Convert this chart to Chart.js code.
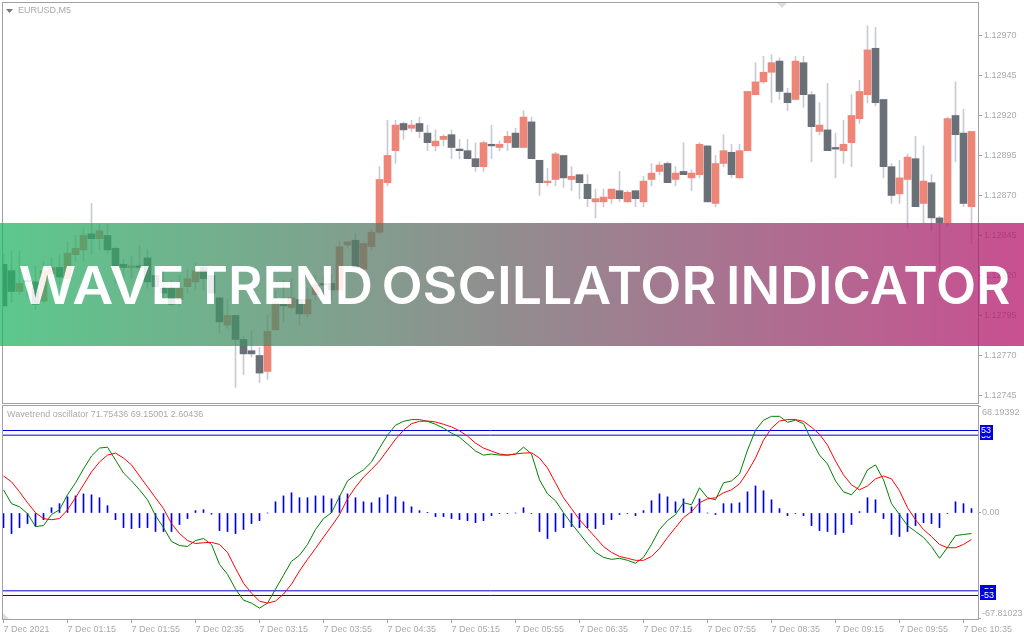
<!DOCTYPE html>
<html>
<head>
<meta charset="utf-8">
<title>Wave Trend Oscillator Indicator</title>
<script src="https://cdn.jsdelivr.net/npm/chart.js@4/dist/chart.umd.min.js"></script>
<style>
html, body { margin: 0; padding: 0; background: #fff; overflow: hidden; }
canvas { position: absolute; left: 0; }
#priceChart { top: 0; }
#oscChart { top: 404px; }
</style>
</head>
<body>
<canvas id="priceChart" width="1024" height="405"></canvas>
<canvas id="oscChart" width="1024" height="236"></canvas>
<script>
const symbolLabel = 'EURUSD,M5';
const oscLabel = 'Wavetrend oscillator 71.75436 69.15001 2.60436';
const bannerWords = ['WAVE', 'TREND', 'OSCILLATOR', 'INDICATOR'];

const timeLabels = ['7 Dec 2021', '7 Dec 01:15', '7 Dec 01:55', '7 Dec 02:35', '7 Dec 03:15', '7 Dec 03:55',
    '7 Dec 04:35', '7 Dec 05:15', '7 Dec 05:55', '7 Dec 06:35', '7 Dec 07:15', '7 Dec 07:55',
    '7 Dec 08:35', '7 Dec 09:15', '7 Dec 09:55', '7 Dec 10:35'];
const priceTicks = [1.12970, 1.12945, 1.12920, 1.12895, 1.12870, 1.12845, 1.12820, 1.12795, 1.12770, 1.12745];
const oscTicks = [68.19392, 0, -67.81023];
const oscLevels = [50, 53, -50, -53];

const opens = [1.12827, 1.12823, 1.12810, 1.12817, 1.12816, 1.12804, 1.12821, 1.12825, 1.12818, 1.12833,
    1.12836, 1.12846, 1.12843, 1.12845, 1.12837, 1.12827, 1.12825, 1.12826, 1.12831, 1.12820,
    1.12812, 1.12812, 1.12805, 1.12813, 1.12816, 1.12825, 1.12820, 1.12806, 1.12789, 1.12795,
    1.12780, 1.12773, 1.12770, 1.12760, 1.12786, 1.12802, 1.12800, 1.12805, 1.12796, 1.12808,
    1.12815, 1.12815, 1.12811, 1.12839, 1.12842, 1.12824, 1.12838, 1.12847, 1.12878, 1.12898,
    1.12915, 1.12912, 1.12915, 1.12909, 1.12901, 1.12905, 1.12908, 1.12899, 1.12898, 1.12893,
    1.12888, 1.12902, 1.12900, 1.12903, 1.12909, 1.12900, 1.12916, 1.12892, 1.12878, 1.12880,
    1.12895, 1.12880, 1.12883, 1.12877, 1.12866, 1.12866, 1.12868, 1.12873, 1.12866, 1.12873,
    1.12866, 1.12880, 1.12885, 1.12890, 1.12880, 1.12885, 1.12881, 1.12883, 1.12901, 1.12865,
    1.12890, 1.12897, 1.12881, 1.12898, 1.12933, 1.12941, 1.12947, 1.12954, 1.12934, 1.12930,
    1.12953, 1.12933, 1.12910, 1.12911, 1.12900, 1.12898, 1.12903, 1.12918, 1.12933, 1.12962,
    1.12930, 1.12888, 1.12871, 1.12880, 1.12893, 1.12865, 1.12878, 1.12856, 1.12853, 1.12920,
    1.12909, 1.12863];
const closes = [1.12801, 1.12810, 1.12815, 1.12816, 1.12802, 1.12823, 1.12825, 1.12819, 1.12834, 1.12837,
    1.12845, 1.12843, 1.12848, 1.12836, 1.12826, 1.12825, 1.12826, 1.12825, 1.12816, 1.12813,
    1.12809, 1.12802, 1.12812, 1.12818, 1.12823, 1.12818, 1.12809, 1.12791, 1.12795, 1.12780,
    1.12771, 1.12771, 1.12759, 1.12785, 1.12803, 1.12801, 1.12806, 1.12796, 1.12805, 1.12814,
    1.12814, 1.12811, 1.12838, 1.12841, 1.12825, 1.12840, 1.12847, 1.12880, 1.12895, 1.12914,
    1.12911, 1.12914, 1.12910, 1.12903, 1.12904, 1.12907, 1.12900, 1.12898, 1.12893, 1.12888,
    1.12903, 1.12901, 1.12902, 1.12907, 1.12900, 1.12919, 1.12893, 1.12878, 1.12879, 1.12896,
    1.12881, 1.12882, 1.12878, 1.12868, 1.12868, 1.12869, 1.12874, 1.12868, 1.12872, 1.12868,
    1.12879, 1.12884, 1.12889, 1.12878, 1.12884, 1.12883, 1.12884, 1.12902, 1.12866, 1.12890,
    1.12898, 1.12883, 1.12898, 1.12935, 1.12941, 1.12947, 1.12953, 1.12935, 1.12928, 1.12954,
    1.12933, 1.12913, 1.12914, 1.12898, 1.12899, 1.12902, 1.12920, 1.12935, 1.12961, 1.12928,
    1.12888, 1.12870, 1.12881, 1.12894, 1.12863, 1.12879, 1.12856, 1.12853, 1.12918, 1.12908,
    1.12865, 1.12910];
const highs = [1.12833, 1.12835, 1.12835, 1.12825, 1.12826, 1.12829, 1.12831, 1.12833, 1.12841, 1.12845,
    1.12849, 1.12865, 1.12852, 1.12852, 1.12838, 1.12830, 1.12832, 1.12839, 1.12836, 1.12825,
    1.12823, 1.12817, 1.12820, 1.12824, 1.12828, 1.12826, 1.12820, 1.12806, 1.12805, 1.12795,
    1.12782, 1.12785, 1.12775, 1.12795, 1.12810, 1.12817, 1.12818, 1.12805, 1.12812, 1.12820,
    1.12820, 1.12820, 1.12841, 1.12841, 1.12846, 1.12840, 1.12849, 1.12888, 1.12917, 1.12917,
    1.12916, 1.12917, 1.12919, 1.12914, 1.12911, 1.12908, 1.12911, 1.12905, 1.12905, 1.12903,
    1.12904, 1.12914, 1.12904, 1.12910, 1.12912, 1.12923, 1.12919, 1.12892, 1.12887, 1.12897,
    1.12895, 1.12888, 1.12883, 1.12883, 1.12874, 1.12874, 1.12874, 1.12885, 1.12873, 1.12873,
    1.12882, 1.12890, 1.12891, 1.12891, 1.12888, 1.12903, 1.12886, 1.12903, 1.12901, 1.12895,
    1.12908, 1.12902, 1.12902, 1.12935, 1.12953, 1.12957, 1.12958, 1.12956, 1.12937, 1.12957,
    1.12957, 1.12935, 1.12928, 1.12940, 1.12909, 1.12917, 1.12933, 1.12942, 1.12976, 1.12975,
    1.12930, 1.12890, 1.12892, 1.12896, 1.12907, 1.12901, 1.12883, 1.12857, 1.12919, 1.12941,
    1.12924, 1.12910];
const lows = [1.12801, 1.12803, 1.12808, 1.12807, 1.12799, 1.12803, 1.12815, 1.12814, 1.12814, 1.12829,
    1.12829, 1.12833, 1.12836, 1.12834, 1.12815, 1.12816, 1.12818, 1.12818, 1.12812, 1.12808,
    1.12803, 1.12801, 1.12801, 1.12809, 1.12811, 1.12811, 1.12808, 1.12784, 1.12787, 1.12750,
    1.12758, 1.12769, 1.12753, 1.12755, 1.12786, 1.12791, 1.12799, 1.12789, 1.12794, 1.12805,
    1.12808, 1.12805, 1.12811, 1.12837, 1.12825, 1.12822, 1.12836, 1.12846, 1.12876, 1.12890,
    1.12905, 1.12910, 1.12906, 1.12898, 1.12898, 1.12901, 1.12893, 1.12893, 1.12893, 1.12885,
    1.12885, 1.12893, 1.12898, 1.12898, 1.12900, 1.12900, 1.12893, 1.12870, 1.12876, 1.12876,
    1.12875, 1.12873, 1.12868, 1.12863, 1.12856, 1.12863, 1.12865, 1.12866, 1.12866, 1.12863,
    1.12863, 1.12876, 1.12883, 1.12878, 1.12876, 1.12883, 1.12873, 1.12881, 1.12866, 1.12863,
    1.12888, 1.12881, 1.12881, 1.12898, 1.12933, 1.12940, 1.12928, 1.12930, 1.12923, 1.12930,
    1.12925, 1.12891, 1.12908, 1.12898, 1.12881, 1.12890, 1.12888, 1.12915, 1.12928, 1.12926,
    1.12881, 1.12865, 1.12865, 1.12850, 1.12863, 1.12853, 1.12848, 1.12823, 1.12851, 1.12891,
    1.12863, 1.12840];

const histValues = [-9.4, -13.2, -9.4, -6.8, -8.5, -4.3, 3.4, 6, 10.4, 11,
    12.3, 11.7, 9.8, 4.7, -4.3, -9.4, -10, -9.4, -9.4, -11.9,
    -11.9, -11.9, -7.4, -3.6, 1.5, 2.1, -0.8, -11.3, -11.9, -13.2,
    -10.6, -6.8, -4.9, 0, 7.2, 11, 13, 9.8, 9.8, 11,
    11, 9.1, 11, 12.3, 9.8, 7.2, 6.6, 9.8, 11.7, 10.4,
    7.2, 4, 1.5, 0.2, -2.3, -2.3, -3.6, -4.3, -4.9, -6.2,
    -4.9, -1.7, -0.4, -0.4, 0, 3.4, -0.4, -11.9, -16.4, -11.9,
    -9.4, -8.7, -9.4, -9.4, -10, -7.4, -4.3, -1, -0.4, -1.7,
    1.5, 7.9, 12.3, 10.4, 7.2, 9.1, 4, 9.1, 0, -1,
    6, 6, 6.6, 13.6, 17.4, 14.3, 8.5, 2.8, -1.7, -0.4,
    -1.7, -8.1, -11.3, -11.9, -13.8, -12.6, -7.4, 0.9, 9.8, 8.5,
    -3.6, -13.8, -15.1, -11.9, -8.1, -6.2, -6.8, -9.4, -0.4, 7.2,
    6, 2.8];
const greenValues = [14.9, 6, 4, -0.4, -8.7, -8.1, -1, 2.1, 11.7, 19.4,
    28.3, 36.6, 41.7, 42.3, 34, 25.7, 20.6, 14.9, 8.5, -1.7,
    -9.4, -18.3, -20.9, -21.5, -17.7, -16.4, -20.2, -33, -39.4, -48.9,
    -56, -57.9, -61.1, -57.9, -48.9, -40, -31, -27.2, -20.2, -10.6,
    -3.6, 0.2, 10.4, 20.6, 24.5, 27.7, 32.8, 41.7, 50, 56.4,
    58.9, 60, 60, 58.9, 57, 54.5, 51.3, 48.7, 44.3, 39.8,
    37.2, 37.9, 37.2, 37.2, 37.9, 42.3, 37.9, 21.3, 12.3, 7.9,
    0.2, -6.8, -13.2, -19.6, -25.3, -28.5, -29.8, -29.1, -30.4, -32.3,
    -28.5, -20.2, -10.6, -4.9, -1, 6.6, 5.3, 16.2, 9.8, 8.5,
    19.4, 20.6, 25.1, 40.4, 53.2, 59.6, 62.1, 62.1, 58.3, 59.6,
    57.4, 46.8, 37.2, 31.5, 20.6, 13.6, 11.7, 17.4, 27.7, 30.9,
    21.3, 6, -1, -8.1, -11.9, -15.7, -21.5, -29.1, -22.1, -14.5,
    -13.8, -13.2];
const redValues = [23.8, 20, 13.6, 6.6, 0.2, -3.6, -4.3, -3.6, 2.1, 9.8,
    18.1, 26.4, 32.8, 37.2, 38.5, 35.3, 30.9, 23.8, 16.8, 9.8,
    2.8, -6.8, -13.2, -17.7, -19.6, -19.1, -18.9, -20.2, -25.3, -35.5,
    -45.1, -51.5, -56.6, -57.9, -56.6, -52.1, -45.7, -37.2, -29.8, -22.8,
    -15.5, -8.5, -1.1, 9.1, 16.6, 23, 28, 33.4, 40.4, 47.4,
    53.2, 57.4, 58.9, 59.1, 58.5, 57, 55.3, 52.8, 49.4, 44.9,
    41.7, 39.8, 37.9, 37.2, 37.9, 38.5, 38.7, 35.3, 28.9, 19.4,
    9.8, 2.8, -4.3, -10, -15.7, -21.5, -25.3, -27.9, -29.1, -30.4,
    -30.4, -27.9, -22.8, -15.7, -9.4, -3, 0.9, 6.6, 9.1, 9.8,
    13, 14.9, 18.7, 26.4, 35.3, 46.8, 54.5, 59.1, 60, 60,
    58.9, 55.1, 50.6, 43.6, 33.4, 24.5, 18.1, 14.9, 17.4, 21.9,
    23.8, 21.9, 14.3, 3.4, -4.3, -10.6, -15.1, -20.2, -22.3, -22.3,
    -20.2, -17];

const frameColor = '#a0a0a6';
const textColor = '#a9a9ad';
const bullColor = '#ee8577';
const bearColor = '#6a7078';
const wickColor = '#c9cad6';
const levelColor = '#0000e0';
const axisFont = { family: 'Liberation Sans', size: 9 };

// 8 px per bar, first bar centred on x = 3.5
const xMin = -0.0625;
const xMax = 121.8125;

// left and right edge of each banner word
const wordEdges = [[19.5, 182], [195, 370.5], [383.5, 715.5], [729, 1009.5]];

function noMargins(scale) {
    scale.paddingLeft = 0;
    scale.paddingRight = 0;
    scale.paddingTop = 0;
    scale.paddingBottom = 0;
}

function drawFrame(chart) {
    const a = chart.chartArea;
    const ctx = chart.ctx;
    ctx.save();
    ctx.strokeStyle = frameColor;
    ctx.lineWidth = 1;
    ctx.strokeRect(a.left - 0.5, a.top - 0.5, a.right - a.left + 1, a.bottom - a.top + 1);
    ctx.restore();
}

function triangle(ctx, x1, y1, x2, y2, x3, y3, color) {
    ctx.fillStyle = color;
    ctx.beginPath();
    ctx.moveTo(x1, y1);
    ctx.lineTo(x2, y2);
    ctx.lineTo(x3, y3);
    ctx.fill();
}

const pricePlugin = {
    id: 'priceExtras',
    beforeDatasetsDraw(chart) {
        drawFrame(chart);
        const ctx = chart.ctx;
        ctx.save();
        triangle(ctx, 6, 9, 13, 9, 9.5, 13, '#77777f');
        triangle(ctx, 777, 3, 787, 3, 782, 8, '#dddde3');
        ctx.fillStyle = textColor;
        ctx.font = '9px "Liberation Sans"';
        ctx.textBaseline = 'middle';
        ctx.fillText(symbolLabel, 18, 10.5);
        ctx.restore();
    },
    afterDraw(chart) {
        const ctx = chart.ctx;
        const top = 223, h = 123, w = 1024;

        // the letters are cut out of the tinted band, so candles only ghost through them
        const layer = document.createElement('canvas');
        layer.width = w;
        layer.height = h;
        const lc = layer.getContext('2d');
        const grad = lc.createLinearGradient(0, 0, w, 0);
        grad.addColorStop(0, 'rgba(35,181,100,0.74)');
        grad.addColorStop(1, 'rgba(181,19,107,0.74)');
        lc.fillStyle = grad;
        lc.fillRect(0, 0, w, h);

        const putWords = (c, y) => {
            c.font = '560 52px Inter';
            bannerWords.forEach((word, k) => {
                const m = c.measureText(word);
                const inkLeft = -m.actualBoundingBoxLeft;
                const inkWidth = m.actualBoundingBoxRight + m.actualBoundingBoxLeft;
                const sx = (wordEdges[k][1] - wordEdges[k][0]) / inkWidth;
                c.save();
                c.translate(wordEdges[k][0], y);
                c.scale(sx, 1);
                c.fillText(word, -inkLeft, 0);
                c.restore();
            });
        };

        lc.globalCompositeOperation = 'destination-out';
        lc.fillStyle = '#000';
        putWords(lc, 303.5 - top);

        ctx.save();
        ctx.fillStyle = 'rgba(255,255,255,0.86)';
        putWords(ctx, 303.5);
        ctx.drawImage(layer, 0, top);
        ctx.restore();
    }
};

const oscPlugin = {
    id: 'oscExtras',
    beforeDatasetsDraw(chart) {
        drawFrame(chart);
        const ctx = chart.ctx;
        ctx.save();
        triangle(ctx, 3, 209, 3, 215, 9, 215, '#dcdce0');
        ctx.fillStyle = textColor;
        ctx.font = '9px "Liberation Sans"';
        ctx.textBaseline = 'middle';
        ctx.fillText(oscLabel, 7, 10.5);
        ctx.restore();
    },
    afterDraw(chart) {
        const ctx = chart.ctx;
        const yScale = chart.scales.y;
        ctx.save();
        ctx.font = '9px "Liberation Sans"';
        ctx.textBaseline = 'middle';
        oscLevels.forEach(level => {
            const y = yScale.getPixelForValue(level);
            const label = String(level);
            const w = Math.ceil(ctx.measureText(label).width) + 2;
            ctx.fillStyle = '#0000e0';
            ctx.fillRect(980, Math.round(y) - 6, w, 11);
            ctx.fillStyle = '#fff';
            ctx.fillText(label, 981, y + 0.5);
        });
        ctx.restore();
    }
};

const candleIndex = opens.map((_, i) => i);
const candleColors = candleIndex.map(i => closes[i] >= opens[i] ? bullColor : bearColor);

new Chart(document.getElementById('priceChart'), {
    type: 'bar',
    data: {
        datasets: [
            {
                label: 'wick',
                data: candleIndex.map(i => ({ x: i, y: [lows[i], highs[i]] })),
                backgroundColor: wickColor,
                barThickness: 1,
                order: 2
            },
            {
                label: 'body',
                data: candleIndex.map(i => ({ x: i, y: [opens[i], closes[i]] })),
                backgroundColor: candleColors,
                barThickness: 7,
                order: 1
            }
        ]
    },
    plugins: [pricePlugin],
    options: {
        responsive: false,
        animation: false,
        devicePixelRatio: 1,
        datasets: { bar: { grouped: false } },
        layout: { padding: { left: 3, top: 3, right: 0, bottom: 2 } },
        plugins: { legend: { display: false }, tooltip: { enabled: false } },
        scales: {
            x: { type: 'linear', display: false, offset: false, min: xMin, max: xMax },
            y: {
                position: 'right',
                min: 1.127403,
                max: 1.129903,
                afterFit(scale) { scale.width = 46; noMargins(scale); },
                afterBuildTicks(scale) { scale.ticks = priceTicks.map(value => ({ value })); },
                border: { display: false },
                grid: { drawOnChartArea: false, color: frameColor, tickLength: 4 },
                ticks: {
                    autoSkip: false,
                    padding: 2,
                    color: textColor,
                    font: axisFont,
                    callback: value => value.toFixed(5)
                }
            }
        }
    }
});

const levelDatasets = oscLevels.map(level => ({
    type: 'line',
    label: 'level ' + level,
    data: [{ x: xMin, y: level }, { x: xMax, y: level }],
    borderColor: levelColor,
    borderWidth: 1,
    pointRadius: 0,
    order: 3
}));

function oscTickLabel(value) {
    // outer labels sit just inside the panel, a blank line moves them off the edge
    if (value === 0) return '0.00';
    return value > 0 ? ['', value.toFixed(5)] : [value.toFixed(5), ''];
}

new Chart(document.getElementById('oscChart'), {
    type: 'bar',
    data: {
        datasets: [
            {
                label: 'histogram',
                data: histValues.map((v, i) => ({ x: i, y: v })),
                backgroundColor: levelColor,
                barThickness: 1,
                order: 4
            },
            ...levelDatasets,
            {
                type: 'line',
                label: 'wt1',
                data: greenValues.map((v, i) => ({ x: i, y: v })),
                borderColor: '#008000',
                borderWidth: 1,
                pointRadius: 0,
                tension: 0,
                order: 2
            },
            {
                type: 'line',
                label: 'wt2',
                data: redValues.map((v, i) => ({ x: i, y: v })),
                borderColor: '#ff0000',
                borderWidth: 1,
                pointRadius: 0,
                tension: 0,
                order: 1
            }
        ]
    },
    plugins: [oscPlugin],
    options: {
        responsive: false,
        animation: false,
        devicePixelRatio: 1,
        layout: { padding: { left: 3, top: 2, right: 0, bottom: 0 } },
        plugins: { legend: { display: false }, tooltip: { enabled: false } },
        scales: {
            x: {
                type: 'linear',
                offset: false,
                min: xMin,
                max: xMax,
                afterFit(scale) { scale.height = 21; noMargins(scale); },
                afterBuildTicks(scale) { scale.ticks = timeLabels.map((_, k) => ({ value: k * 8 })); },
                border: { display: false },
                grid: { drawOnChartArea: false, offset: false, color: frameColor, tickLength: 4 },
                ticks: {
                    autoSkip: false,
                    maxRotation: 0,
                    minRotation: 0,
                    align: 'start',
                    padding: 1,
                    color: textColor,
                    font: axisFont,
                    callback: value => timeLabels[value / 8]
                }
            },
            y: {
                position: 'right',
                min: -68.1,
                max: 68.74,
                afterFit(scale) { scale.width = 46; noMargins(scale); },
                afterBuildTicks(scale) { scale.ticks = oscTicks.map(value => ({ value })); },
                border: { display: false },
                grid: { drawOnChartArea: false, color: frameColor, tickLength: 3 },
                ticks: {
                    autoSkip: false,
                    padding: 1,
                    color: textColor,
                    font: axisFont,
                    callback: oscTickLabel
                }
            }
        }
    }
});
</script>
</body>
</html>
